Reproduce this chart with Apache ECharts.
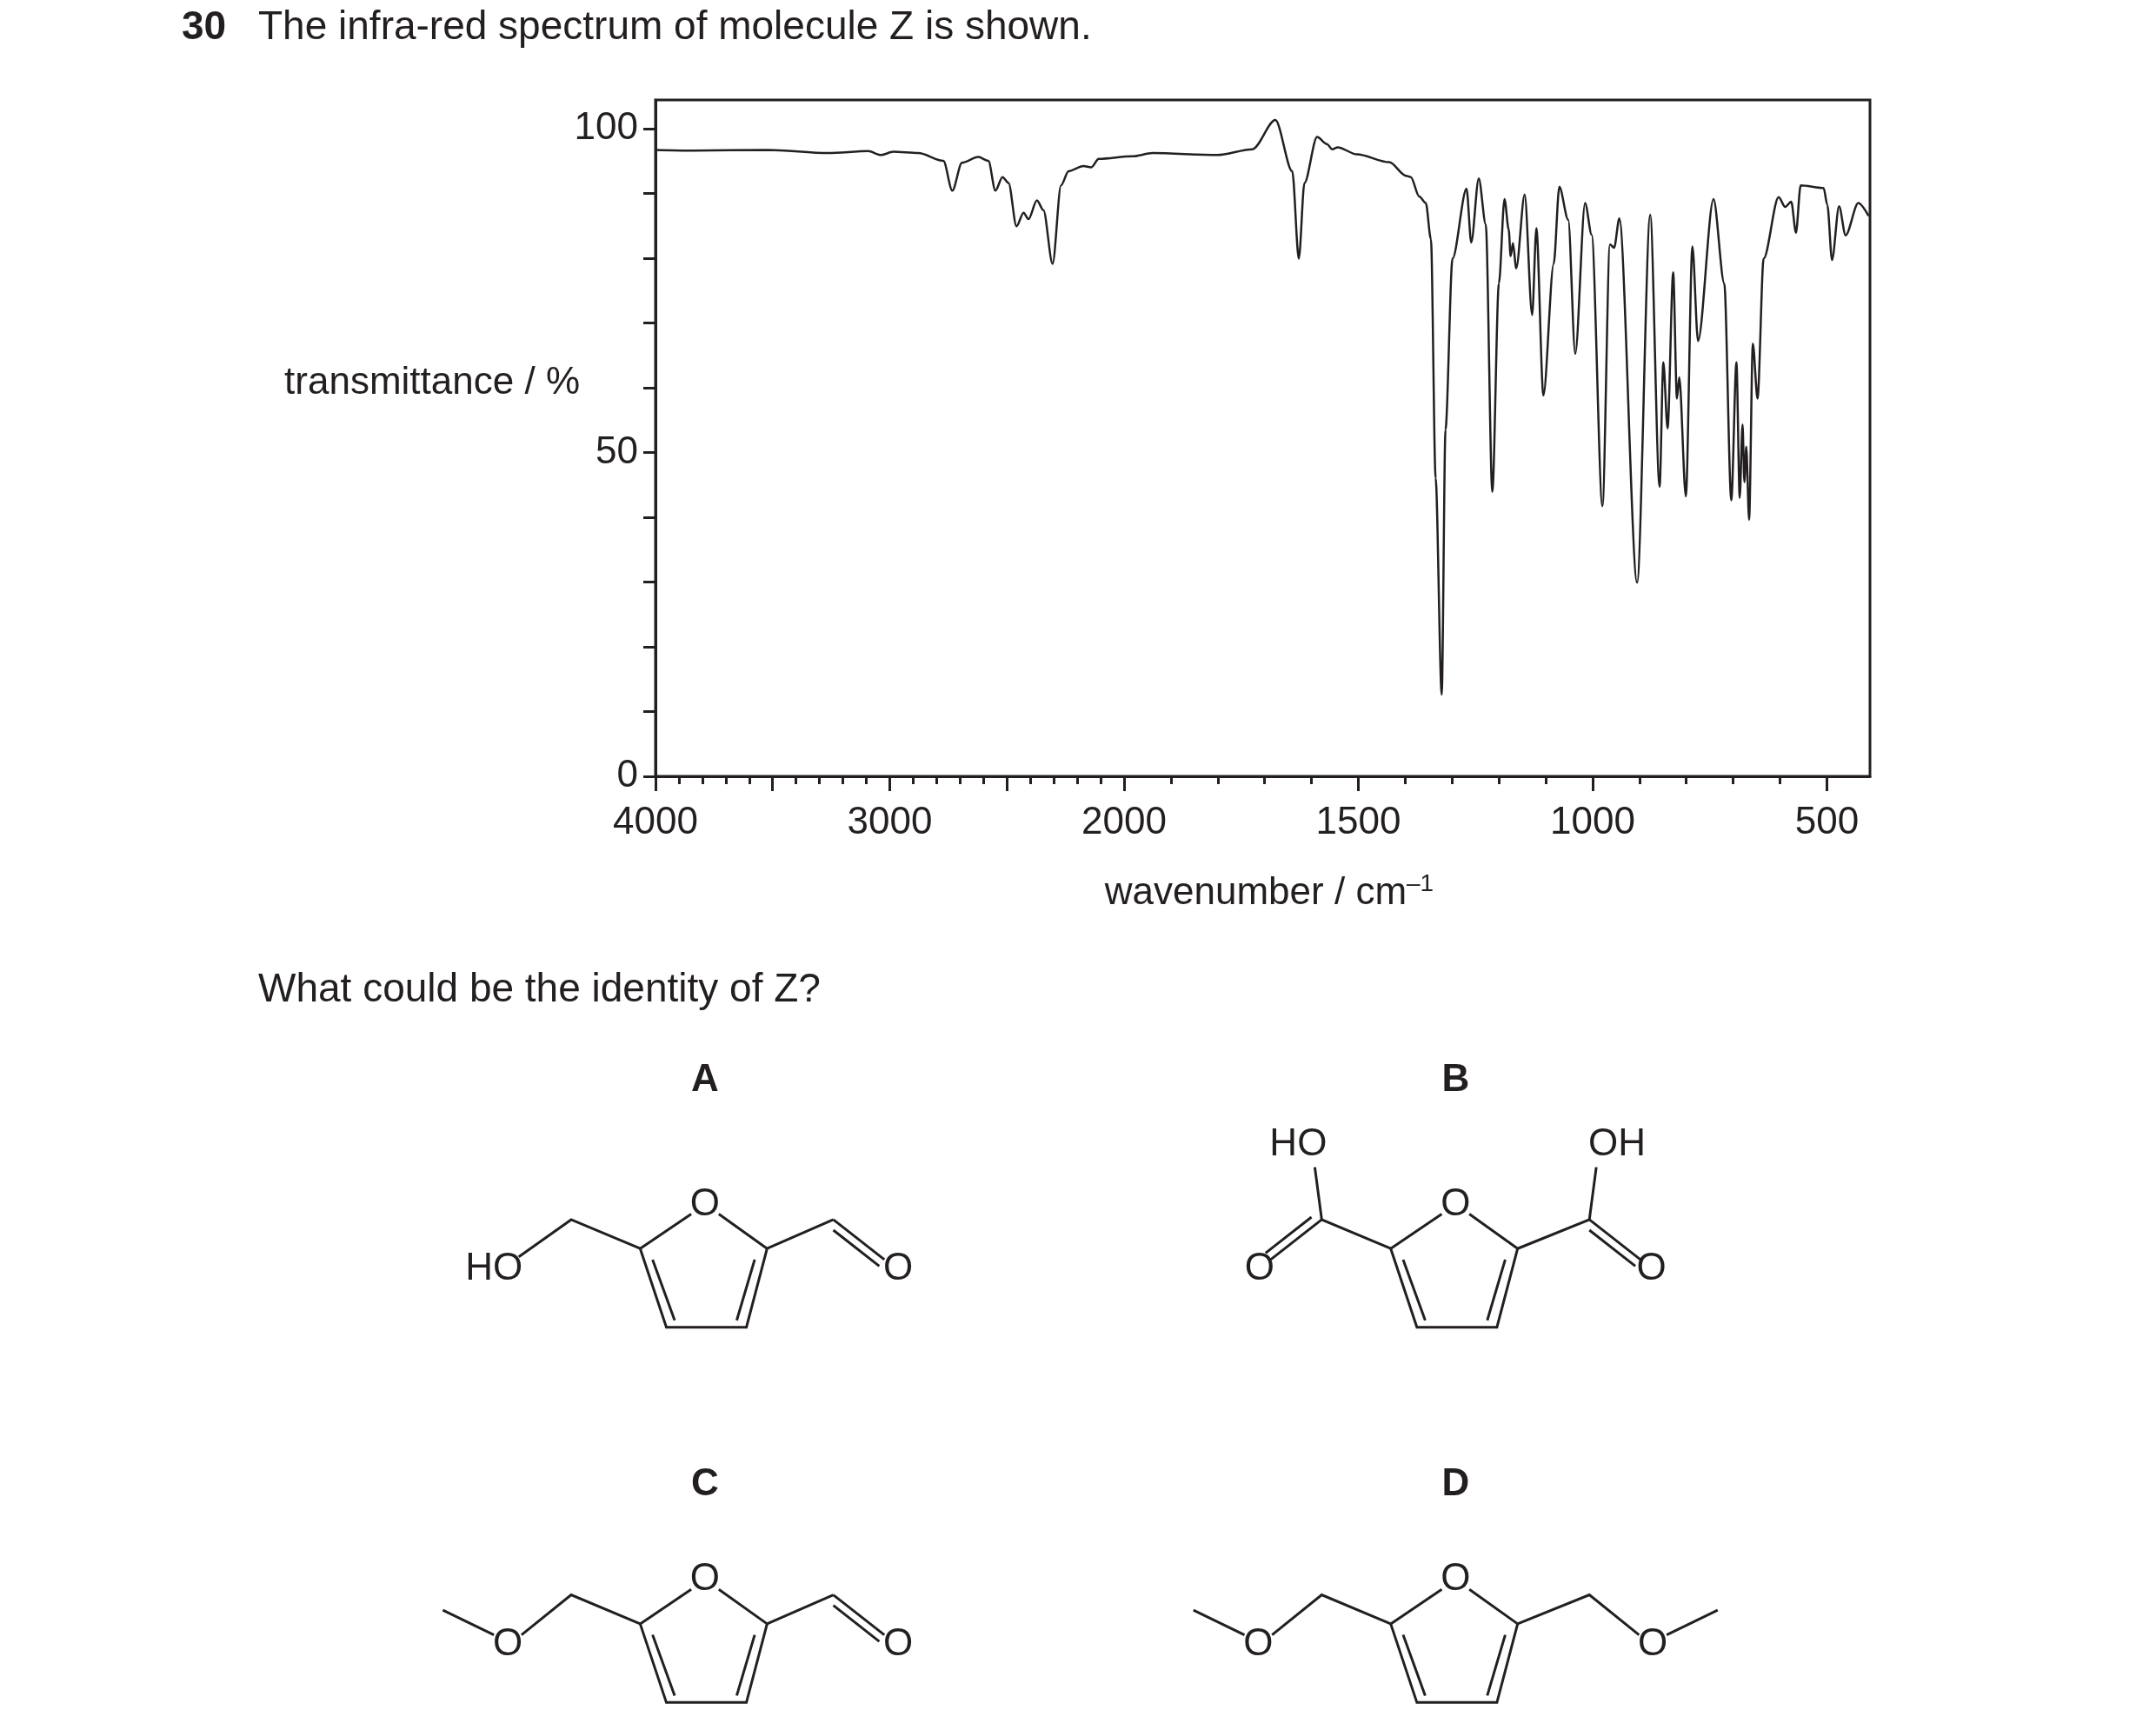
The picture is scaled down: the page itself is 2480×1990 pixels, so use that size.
<!DOCTYPE html>
<html><head><meta charset="utf-8">
<script src="https://cdn.jsdelivr.net/npm/echarts@6/dist/echarts.min.js"></script>
<style>html,body{margin:0;padding:0;background:#fff}#c{width:2480px;height:1990px}</style>
</head><body><div id="c"></div>
<script>
const wavenumbers = [4000,3840,3519,3263,3092,3038,2985,2878,2771,2733,2692,2622,2579,2549,2519,2493,2459,2429,2408,2372,2344,2305,2269,2237,2173,2140,2108,1982,1939,1801,1726,1677,1641,1627,1615,1588,1567,1556,1544,1503,1434,1398,1388,1370,1356,1345,1335,1322,1314,1299,1269,1259,1243,1228,1214,1200,1188,1179,1175,1170,1163,1145,1129,1120,1105,1083,1071,1052,1037,1016,1002,979,963,954,943,905,877,857,849,840,828,820,815,801,787,775,742,719,704,693,686,680,676,672,666,658,648,635,603,589,576,566,556,507,499,489,474,460,433,411];
const transmittance = [96.7,96.6,96.7,96.2,96.5,95.9,96.4,96.2,95.0,90.4,94.7,95.6,95.0,90.4,92.5,91.6,84.9,87.0,86.0,88.9,87.4,79.1,91.2,93.4,94.2,94.0,95.3,95.7,96.2,95.9,96.8,101.3,93.4,79.9,91.6,98.7,97.6,96.8,97.1,96.0,94.8,92.7,92.5,89.5,88.5,82.9,46,12.6,53.5,79.9,90.7,82.4,92.3,85.2,43.9,76.1,89.1,84.4,80.3,82.3,78.4,89.8,71.2,84.6,58.8,79.1,91.0,85.9,65.2,88.5,83.6,41.7,82.1,81.6,86.1,29.9,86.7,44.7,63.9,53.7,77.8,58.3,61.6,43.2,81.8,67.2,89.1,76.1,42.6,63.9,43.0,54.3,45.4,50.9,39.6,66.8,58.3,79.9,89.4,87.9,88.7,83.9,91.2,90.8,88.2,79.7,88.0,83.5,88.5,86.5];
const xLabels = [4000,3000,2000,1500,1000,500];
const yLabels = [0,50,100];

// split scale: 4000-2000 compressed by 2
function pos(w){ return w >= 2000 ? (4000 - w) / 2 : 1000 + (2000 - w); }
function wn(p){ return p <= 1000 ? 4000 - 2 * p : 2000 - (p - 1000); }
const XMAX = pos(408);

const longTicks = [4000,3500,3000,2500,2000,1500,1000,500].map(pos);
const shortTicks = [];
for (let w = 3900; w > 2000; w -= 100) if (w % 500) shortTicks.push(pos(w));
for (let w = 1900; w > 408; w -= 100) if (w % 500) shortTicks.push(pos(w));
const yTicks = []; for (let v = 0; v <= 100; v += 10) yTicks.push(v);

const S = 1.587, F = 'Liberation Sans, Arial, sans-serif', K = '#231f20';
const G = [];
function L(pts, ox, oy){ G.push({type:'polyline', shape:{points: pts.map(p=>[(p[0]+ox)*S,(p[1]+oy)*S])}, style:{stroke:K, lineWidth:3, fill:null}}); }
function T(t, x, y, bold){ G.push({type:'text', x:x*S, y:y*S, style:{text:t, font:(bold?'bold ':'')+'44px '+F, fill:K, align:'center', verticalAlign:'middle'}}); }
function ring(ox, oy){
  T('O', ox, oy);
  L([[-10,7],[-47,32]],ox,oy); L([[10,7],[45,32]],ox,oy);
  L([[-47,32],[-28,89],[30,89],[45,32]],ox,oy);
  L([[-38,40],[-22,84]],ox,oy); L([[36,40],[23,84]],ox,oy);
}
function dbl(a,b,ox,oy){
  L([a,b],ox,oy);
  const dx=b[0]-a[0], dy=b[1]-a[1], l=Math.hypot(dx,dy), nx=-dy/l*6, ny=dx/l*6;
  L([[a[0]+nx+dx*0.1,a[1]+ny+dy*0.1],[b[0]+nx,b[1]+ny]],ox,oy);
}
// A
ring(511,873); L([[-47,32],[-97,11],[-135,38]],511,873); T('HO',358,920);
L([[45,32],[93,11]],511,873); dbl([93,11],[130,40],511,873); T('O',651,920);
T('A',511,783,true);
// B
ring(1055,873);
L([[-47,32],[-97,11],[-102,-27]],1055,873); T('HO',941,830); dbl([-97,11],[-134,40],1055,873); T('O',913,920);
L([[45,32],[97,11],[102,-27]],1055,873); T('OH',1172,830); dbl([97,11],[134,40],1055,873); T('O',1197,920);
T('B',1055,783,true);
// C
ring(511,1145);
L([[-47,32],[-97,11],[-133,40]],511,1145); T('O',368,1192); L([[-153,40],[-190,22]],511,1145);
L([[45,32],[93,11]],511,1145); dbl([93,11],[130,40],511,1145); T('O',651,1192);
T('C',511,1076,true);
// D
ring(1055,1145);
L([[-47,32],[-97,11],[-133,40]],1055,1145); T('O',912,1192); L([[-153,40],[-190,22]],1055,1145);
L([[45,32],[97,11],[133,40]],1055,1145); T('O',1198,1192); L([[153,40],[190,22]],1055,1145);
T('D',1055,1076,true);
// texts
G.push({type:'text', x:209, y:32, style:{text:'30', font:'bold 46px '+F, fill:K, align:'left', verticalAlign:'middle'}});
G.push({type:'text', x:297, y:32, style:{text:'The infra-red spectrum of molecule Z is shown.', font:'46px '+F, fill:K, align:'left', verticalAlign:'middle'}});
G.push({type:'text', x:297, y:1139, style:{text:'What could be the identity of Z?', font:'46px '+F, fill:K, align:'left', verticalAlign:'middle'}});
G.push({type:'text', x:667, y:441, style:{text:'transmittance / %', font:'44px '+F, fill:K, align:'right', verticalAlign:'middle'}});
G.push({type:'text', x:1460, y:1028, style:{rich:{a:{font:'44px '+F, fill:K}, s:{font:'28px '+F, fill:K, padding:[0,0,22,0]}}, text:'{a|wavenumber / cm}{s|–1}', align:'center', verticalAlign:'middle'}});

const chart = echarts.init(document.getElementById('c'));
chart.setOption({
  animation:false,
  grid:{left:754, right:329, top:115, bottom:1097, show:true, borderColor:K, borderWidth:3},
  xAxis:[
    {type:'value', min:0, max:XMAX, position:'bottom', axisLine:{lineStyle:{color:K,width:3}},
     axisTick:{show:true, inside:false, length:17, lineStyle:{color:K,width:3}, customValues:longTicks},
     axisLabel:{customValues:xLabels.map(pos), formatter:v=>String(wn(v)), color:K, fontSize:44, fontFamily:F, margin:32},
     splitLine:{show:false}},
    {type:'value', min:0, max:XMAX, position:'bottom', axisLine:{show:false},
     axisTick:{show:true, length:9, lineStyle:{color:K,width:3}, customValues:shortTicks},
     axisLabel:{show:false}, splitLine:{show:false}}
  ],
  yAxis:{type:'value', min:0, max:104.4, axisLine:{show:true, lineStyle:{color:K,width:3}},
    axisTick:{show:true, length:14, lineStyle:{color:K,width:3}, customValues:yTicks},
    axisLabel:{customValues:yLabels, color:K, fontSize:44, fontFamily:F, margin:20}, splitLine:{show:false}},
  series:[{type:'line', data:wavenumbers.map((w,i)=>[pos(w),transmittance[i]]), smooth:0.3, smoothMonotone:'x',
    showSymbol:false, lineStyle:{color:K, width:2.5}}],
  graphic:G
});
</script></body></html>
